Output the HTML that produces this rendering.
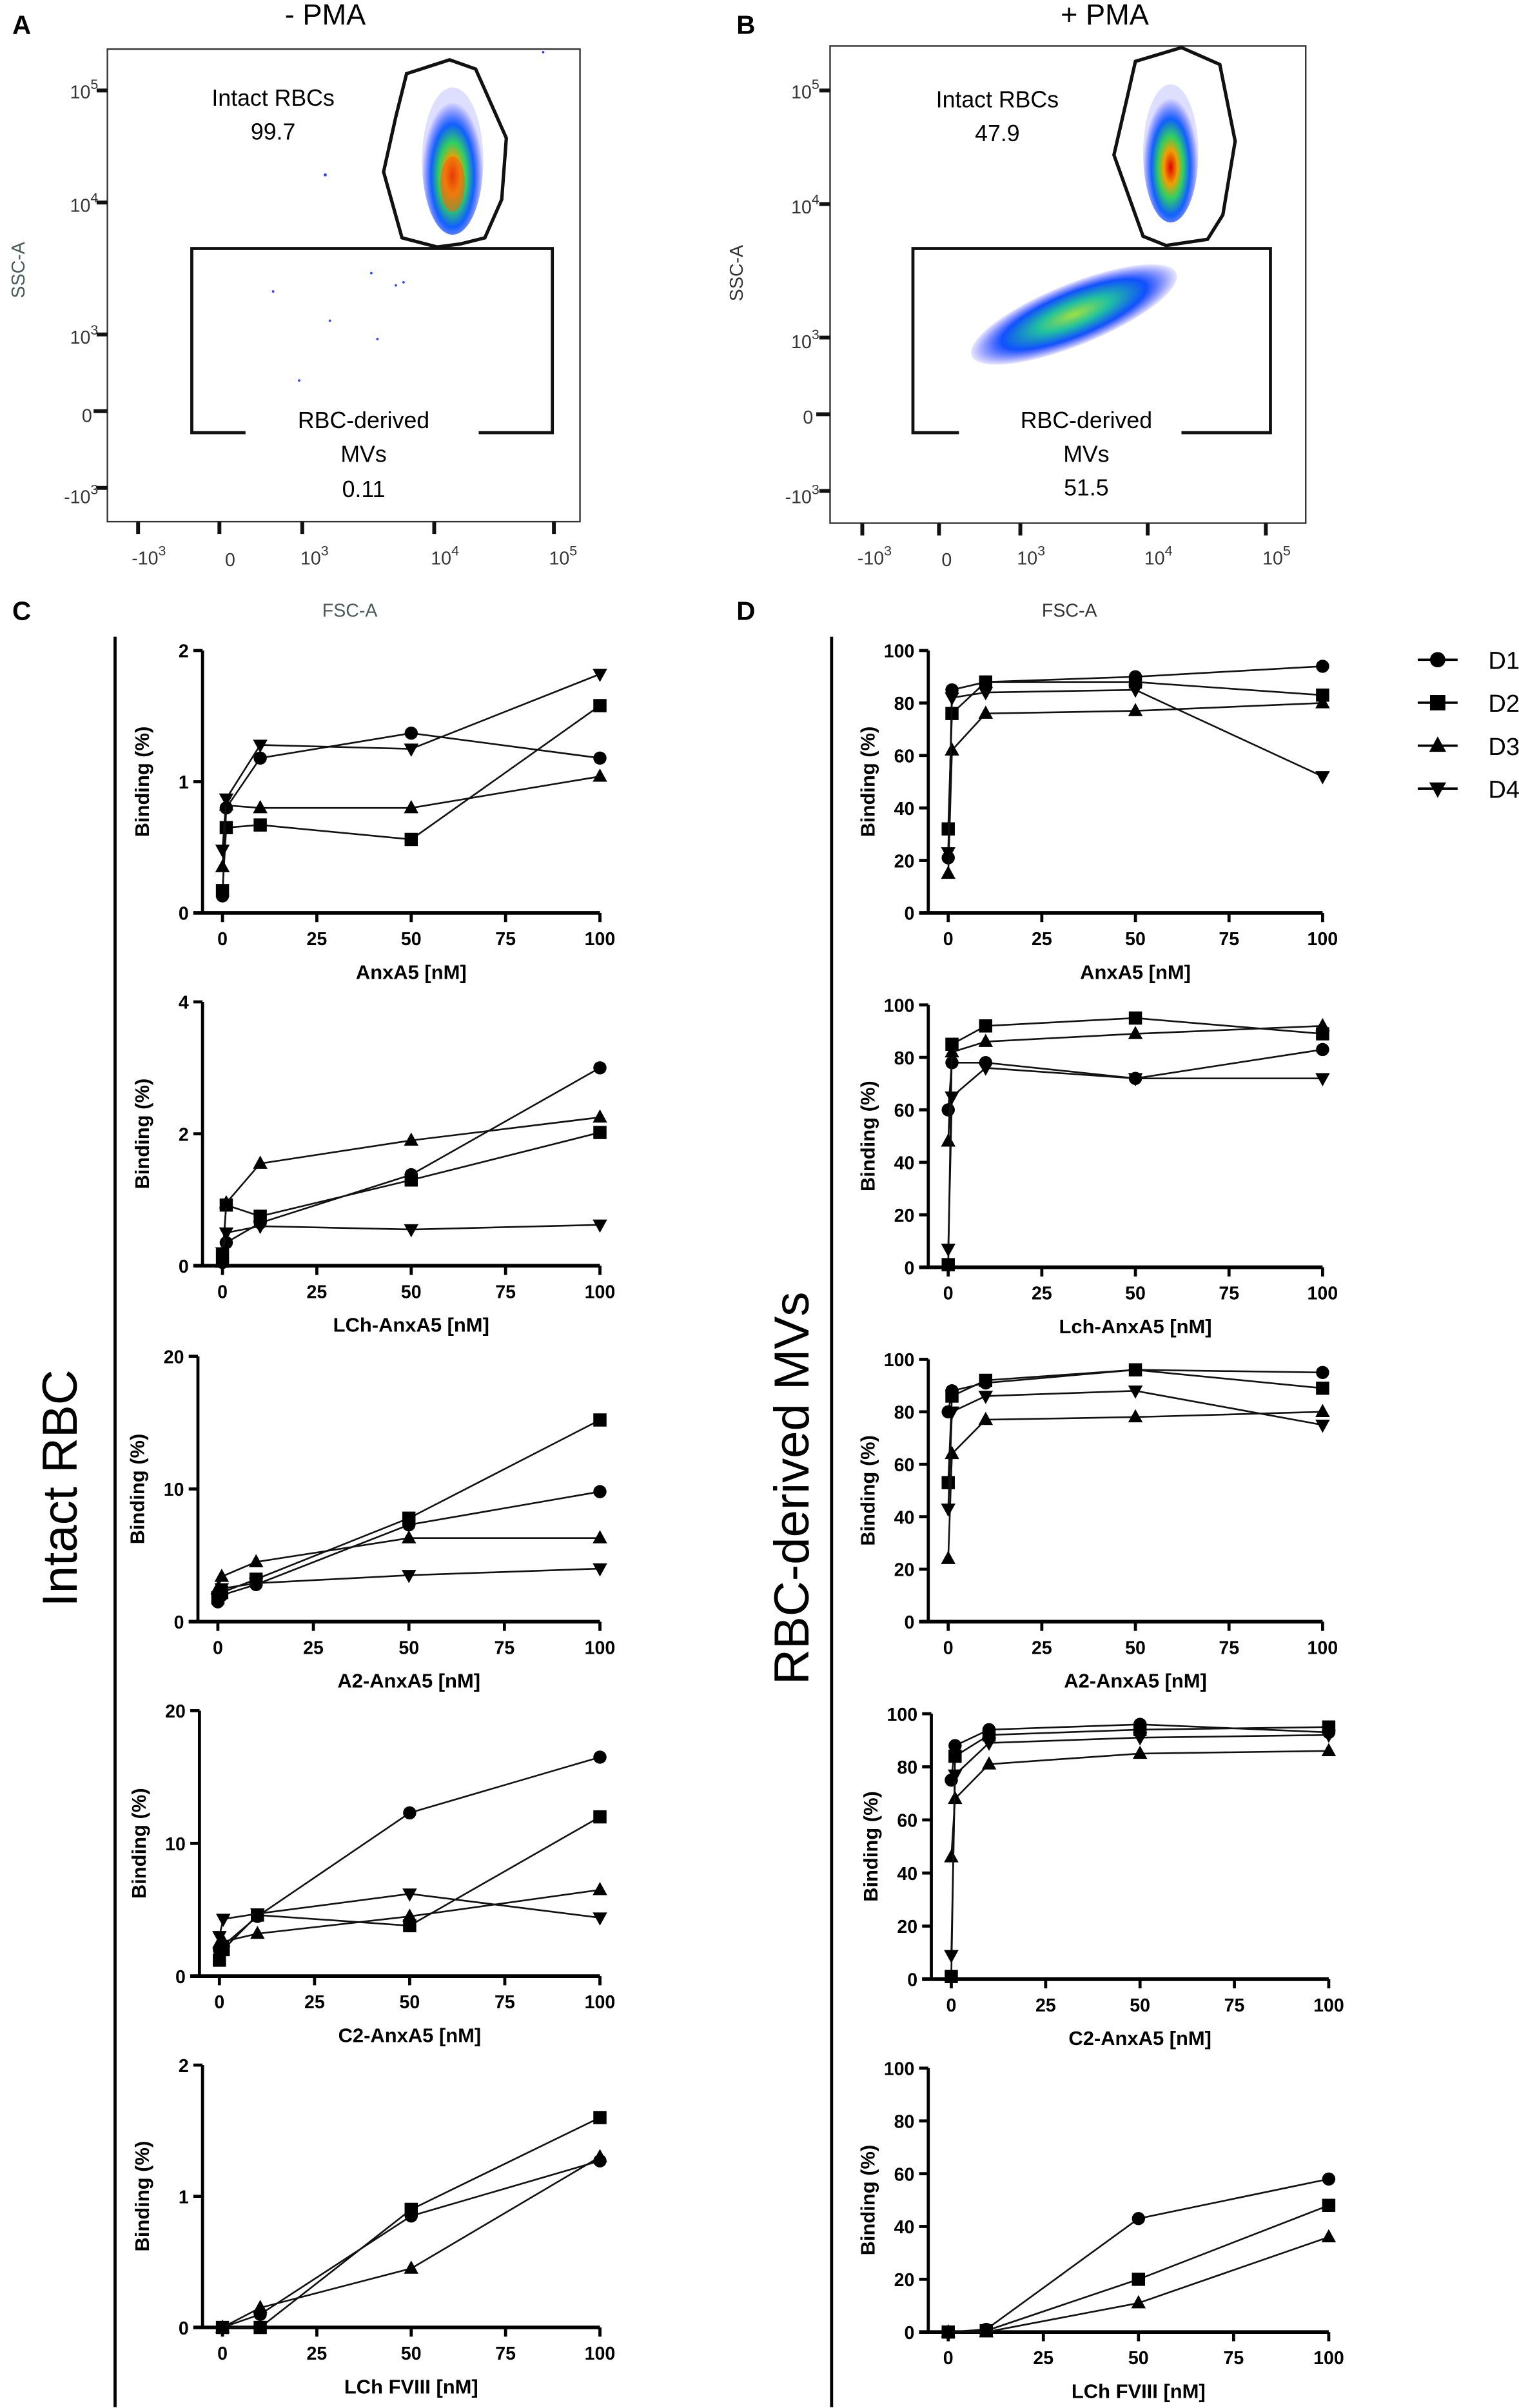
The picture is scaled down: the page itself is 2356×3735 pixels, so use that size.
<!DOCTYPE html>
<html><head><meta charset="utf-8"><style>
html,body{margin:0;padding:0;background:#fff;}
svg{display:block;}
text{font-family:"Liberation Sans",Arial,sans-serif;}
</style></head><body>
<svg id="fig" width="2356" height="3735" viewBox="0 0 990 1569.5" preserveAspectRatio="none" xmlns="http://www.w3.org/2000/svg">
<defs>
<radialGradient id="dens" cx="50%" cy="60%" r="50%">
<stop offset="0" stop-color="#e00000"/><stop offset="0.25" stop-color="#f0a000"/><stop offset="0.45" stop-color="#30d060"/><stop offset="0.7" stop-color="#1060ff"/><stop offset="1" stop-color="#2020ff" stop-opacity="0.15"/>
</radialGradient>
<radialGradient id="dens2" cx="50%" cy="50%" r="50%">
<stop offset="0" stop-color="#a0e040"/><stop offset="0.35" stop-color="#20c0a0"/><stop offset="0.7" stop-color="#1050ff"/><stop offset="1" stop-color="#2020ff" stop-opacity="0.1"/>
</radialGradient>
</defs>

<!-- Panel A -->
<g>
<text x="8" y="22" font-size="17" font-weight="bold">A</text>
<text x="212" y="16" font-size="19" text-anchor="middle">- PMA</text>
<rect x="70" y="32" width="308" height="308" fill="none" stroke="#333" stroke-width="1"/>
<ellipse cx="295" cy="105" rx="20" ry="48" fill="url(#dens)"/>
<ellipse cx="295" cy="120" rx="8" ry="18" fill="#f06010" opacity="0.6"/>
<polygon points="265,48 293,39 310,45 330,90 327,130 316,155 300,159 285,161 262,155 250,112 258,76" fill="none" stroke="#111" stroke-width="2.2"/>
<polyline points="160,282 125,282 125,162 360,162 360,282 312,282" fill="none" stroke="#111" stroke-width="2"/>
<g fill="#3040ff"><circle cx="212" cy="114" r="1"/><circle cx="215" cy="209" r="0.8"/><circle cx="178" cy="190" r="0.8"/><circle cx="242" cy="178" r="0.8"/><circle cx="258" cy="186" r="0.8"/><circle cx="263" cy="184" r="0.8"/><circle cx="246" cy="221" r="0.8"/><circle cx="195" cy="248" r="0.8"/><circle cx="354" cy="34" r="0.8"/></g>
<text x="178" y="69" font-size="15" text-anchor="middle">Intact RBCs</text>
<text x="178" y="91" font-size="15" text-anchor="middle">99.7</text>
<text x="237" y="279" font-size="15" text-anchor="middle">RBC-derived</text>
<text x="237" y="301" font-size="15" text-anchor="middle">MVs</text>
<text x="237" y="324" font-size="15" text-anchor="middle">0.11</text>
<g font-size="12" fill="#333" text-anchor="end">
<text x="64" y="64">10<tspan dy="-6" font-size="9">5</tspan></text>
<text x="64" y="138">10<tspan dy="-6" font-size="9">4</tspan></text>
<text x="64" y="224">10<tspan dy="-6" font-size="9">3</tspan></text>
<text x="60" y="275">0</text>
<text x="64" y="328">-10<tspan dy="-6" font-size="9">3</tspan></text>
</g>
<g stroke="#111" stroke-width="2.5"><line x1="63" y1="59" x2="70" y2="59"/><line x1="63" y1="132" x2="70" y2="132"/><line x1="63" y1="218" x2="70" y2="218"/><line x1="61" y1="268" x2="70" y2="268"/><line x1="63" y1="318" x2="70" y2="318"/>
<line x1="90" y1="340" x2="90" y2="348"/><line x1="143" y1="340" x2="143" y2="348"/><line x1="197" y1="340" x2="197" y2="348"/><line x1="283" y1="340" x2="283" y2="348"/><line x1="361" y1="340" x2="361" y2="348"/></g>
<g font-size="12" fill="#333" text-anchor="middle">
<text x="97" y="368">-10<tspan dy="-6" font-size="9">3</tspan></text>
<text x="150" y="369">0</text>
<text x="205" y="368">10<tspan dy="-6" font-size="9">3</tspan></text>
<text x="290" y="368">10<tspan dy="-6" font-size="9">4</tspan></text>
<text x="367" y="368">10<tspan dy="-6" font-size="9">5</tspan></text>
</g>
<text x="228" y="402" font-size="12" fill="#4a5a5a" text-anchor="middle">FSC-A</text>
<text transform="translate(16,176) rotate(-90)" font-size="12" fill="#4a5a5a" text-anchor="middle">SSC-A</text>
</g>

<!-- Panel B -->
<g>
<text x="480" y="22" font-size="17" font-weight="bold">B</text>
<text x="720" y="16" font-size="19" text-anchor="middle">+ PMA</text>
<rect x="541" y="30" width="310" height="311" fill="none" stroke="#333" stroke-width="1"/>
<g transform="rotate(-22 700 205)"><ellipse cx="700" cy="205" rx="72" ry="20" fill="url(#dens2)"/></g>
<ellipse cx="763" cy="100" rx="18" ry="45" fill="url(#dens)"/>
<polygon points="740,40 770,31 795,42 805,92 797,140 787,156 760,160 745,154 726,101 735,62" fill="none" stroke="#111" stroke-width="2.2"/>
<polyline points="625,282 595,282 595,162 828,162 828,282 770,282" fill="none" stroke="#111" stroke-width="2"/>
<text x="650" y="70" font-size="15" text-anchor="middle">Intact RBCs</text>
<text x="650" y="92" font-size="15" text-anchor="middle">47.9</text>
<text x="708" y="279" font-size="15" text-anchor="middle">RBC-derived</text>
<text x="708" y="301" font-size="15" text-anchor="middle">MVs</text>
<text x="708" y="323" font-size="15" text-anchor="middle">51.5</text>
<g font-size="12" fill="#333" text-anchor="end">
<text x="534" y="64">10<tspan dy="-6" font-size="9">5</tspan></text>
<text x="534" y="139">10<tspan dy="-6" font-size="9">4</tspan></text>
<text x="534" y="227">10<tspan dy="-6" font-size="9">3</tspan></text>
<text x="530" y="276">0</text>
<text x="534" y="328">-10<tspan dy="-6" font-size="9">3</tspan></text>
</g>
<g stroke="#111" stroke-width="2.5"><line x1="534" y1="59" x2="541" y2="59"/><line x1="534" y1="133" x2="541" y2="133"/><line x1="534" y1="220" x2="541" y2="220"/><line x1="532" y1="270" x2="541" y2="270"/><line x1="534" y1="320" x2="541" y2="320"/>
<line x1="562" y1="341" x2="562" y2="349"/><line x1="612" y1="341" x2="612" y2="349"/><line x1="665" y1="341" x2="665" y2="349"/><line x1="748" y1="341" x2="748" y2="349"/><line x1="825" y1="341" x2="825" y2="349"/></g>
<g font-size="12" fill="#333" text-anchor="middle">
<text x="570" y="368">-10<tspan dy="-6" font-size="9">3</tspan></text>
<text x="617" y="369">0</text>
<text x="672" y="368">10<tspan dy="-6" font-size="9">3</tspan></text>
<text x="755" y="368">10<tspan dy="-6" font-size="9">4</tspan></text>
<text x="832" y="368">10<tspan dy="-6" font-size="9">5</tspan></text>
</g>
<text x="697" y="402" font-size="12" fill="#333" text-anchor="middle">FSC-A</text>
<text transform="translate(484,178) rotate(-90)" font-size="12" fill="#333" text-anchor="middle">SSC-A</text>
</g>

<!-- Section labels -->
<text x="8" y="404" font-size="17" font-weight="bold">C</text>
<text x="480" y="404" font-size="17" font-weight="bold">D</text>
<line x1="75" y1="415" x2="75" y2="1569" stroke="#000" stroke-width="2"/>
<line x1="542" y1="415" x2="542" y2="1569" stroke="#000" stroke-width="2"/>
<text transform="translate(50,970) rotate(-90)" font-size="32" text-anchor="middle">Intact RBC</text>
<text transform="translate(527,970) rotate(-90)" font-size="32" text-anchor="middle">RBC-derived MVs</text>

<!-- Legend -->
<g id="legend"></g>
<g id="charts"></g>
</svg>
<script>
// shared x values
const xsAnx = [0, 1, 10, 50, 100];
const xsFVIII = [0, 10, 50, 100];
const donors = ["D1", "D2", "D3", "D4"];
const xTicks = [0, 25, 50, 75, 100];

// C: intact RBC
const cAnxA5_D1 = [0.13, 0.8, 1.18, 1.37, 1.18];
const cAnxA5_D2 = [0.17, 0.65, 0.67, 0.56, 1.58];
const cAnxA5_D3 = [0.35, 0.82, 0.8, 0.8, 1.04];
const cAnxA5_D4 = [0.48, 0.87, 1.28, 1.25, 1.82];
const cLCh_D1 = [0.05, 0.35, 0.65, 1.38, 3.0];
const cLCh_D2 = [0.15, 0.92, 0.75, 1.3, 2.02];
const cLCh_D3 = [0.05, 0.95, 1.55, 1.9, 2.25];
const cLCh_D4 = [0.2, 0.5, 0.6, 0.55, 0.62];
const cA2_D1 = [1.5, 2.0, 2.8, 7.3, 9.8];
const cA2_D2 = [1.8, 2.2, 3.2, 7.8, 15.2];
const cA2_D3 = [2.5, 3.4, 4.5, 6.3, 6.3];
const cA2_D4 = [1.7, 2.5, 2.9, 3.5, 4.0];
const cC2_D1 = [2.0, 2.3, 4.5, 12.3, 16.5];
const cC2_D2 = [1.2, 2.0, 4.6, 3.8, 12.0];
const cC2_D3 = [2.5, 2.6, 3.2, 4.5, 6.5];
const cC2_D4 = [3.0, 4.3, 4.7, 6.2, 4.4];
const cF8_D1 = [0, 0.1, 0.85, 1.27];
const cF8_D2 = [0, 0, 0.9, 1.6];
const cF8_D3 = [0, 0.15, 0.45, 1.3];

// D: MVs
const dAnxA5_D1 = [21, 85, 88, 90, 94];
const dAnxA5_D2 = [32, 76, 88, 88, 83];
const dAnxA5_D3 = [15, 62, 76, 77, 80];
const dAnxA5_D4 = [23, 82, 84, 85, 52];
const dLCh_D1 = [60, 78, 78, 72, 83];
const dLCh_D2 = [1, 85, 92, 95, 89];
const dLCh_D3 = [48, 82, 86, 89, 92];
const dLCh_D4 = [7, 65, 76, 72, 72];
const dA2_D1 = [80, 88, 91, 96, 95];
const dA2_D2 = [53, 86, 92, 96, 89];
const dA2_D3 = [24, 64, 77, 78, 80];
const dA2_D4 = [43, 80, 86, 88, 75];
const dC2_D1 = [75, 88, 94, 96, 93];
const dC2_D2 = [1, 84, 92, 94, 95];
const dC2_D3 = [46, 68, 81, 85, 86];
const dC2_D4 = [9, 77, 89, 91, 92];
const dF8_D1 = [0, 1, 43, 58];
const dF8_D2 = [0, 0.5, 20, 48];
const dF8_D3 = [0, 0, 11, 36];

const yTicksC12 = [0, 1, 2];
const yTicksC2 = [0, 2, 4];
const yTicksC34 = [0, 10, 20];
const yTicksD = [0, 20, 40, 60, 80, 100];

const NS = "http://www.w3.org/2000/svg";
function mk(tag, attrs, parent) { const e = document.createElementNS(NS, tag); for (const k in attrs) e.setAttribute(k, attrs[k]); parent.appendChild(e); return e; }
function marker(g, shape, cx, cy, r) {
  let m;
  if (shape === 0) m = mk("circle", {cx: cx, cy: cy, r: r}, g);
  else if (shape === 1) m = mk("rect", {x: cx - r, y: cy - r, width: 2 * r, height: 2 * r}, g);
  else if (shape === 2) m = mk("polygon", {points: `${cx},${cy - r * 1.2} ${cx - r * 1.1},${cy + r * 0.8} ${cx + r * 1.1},${cy + r * 0.8}`}, g);
  else m = mk("polygon", {points: `${cx},${cy + r * 1.2} ${cx - r * 1.1},${cy - r * 0.8} ${cx + r * 1.1},${cy - r * 0.8}`}, g);
  m.setAttribute("fill", "#000");
  return m;
}
const root = document.getElementById("charts");
function chart(cfg) {
  const g = mk("g", {}, root);
  
  
  const ymax = cfg.yt[cfg.yt.length - 1];
  const sx = v => cfg.x0 + (v / 100) * (cfg.x1 - cfg.x0);
  const sy = v => cfg.yb - (v / ymax) * (cfg.yb - cfg.yt0);
  const ax = cfg.x0 - 13;
  const yAxis = mk("line", {x1: ax, y1: cfg.yt0, x2: ax, y2: cfg.yb, stroke: "#000", "stroke-width": 2}, g);
  
  
  const xAxis = mk("line", {x1: ax - 6, y1: cfg.yb, x2: cfg.x1, y2: cfg.yb, stroke: "#000", "stroke-width": 2.4}, g);
  
  
  cfg.yt.forEach(t => {
    mk("line", {x1: ax - 6, y1: sy(t), x2: ax, y2: sy(t), stroke: "#000", "stroke-width": 2}, g);
    const tl = mk("text", {x: ax - 9, y: sy(t) + 4.5, "font-size": 12, "font-weight": "bold", "text-anchor": "end"}, g);
    
    
    tl.textContent = t;
  });
  xTicks.forEach(t => {
    mk("line", {x1: sx(t), y1: cfg.yb, x2: sx(t), y2: cfg.yb + 6, stroke: "#000", "stroke-width": 2}, g);
    const tl = mk("text", {x: sx(t), y: cfg.yb + 21, "font-size": 12, "font-weight": "bold", "text-anchor": "middle"}, g);
    
    
    tl.textContent = t;
  });
  const xt = mk("text", {x: (cfg.x0 + cfg.x1) / 2, y: cfg.yb + 43, "font-size": 13, "font-weight": "bold", "text-anchor": "middle"}, g);
  
  
  xt.textContent = cfg.xl;
  const yl = mk("text", {transform: `translate(${ax - 35},${(cfg.yt0 + cfg.yb) / 2}) rotate(-90)`, "font-size": 13, "font-weight": "bold", "text-anchor": "middle"}, g);
  
  
  yl.textContent = "Binding (%)";
  cfg.series.forEach((s, i) => {
    const pts = s.map((v, j) => sx(cfg.xs[j]) + "," + sy(v)).join(" ");
    const pl = mk("polyline", {points: pts, fill: "none", stroke: "#111", "stroke-width": 1.1}, g);
    
    
    s.forEach((v, j) => {
      const m = marker(g, i, sx(cfg.xs[j]), sy(v), 4.3);
      
      
    });
  });
}
const cx0 = 145, cx1 = 391, dx0 = 618, dx1 = 862;
chart({name: "chart-c-anxa5", x0: cx0, x1: cx1, yt0: 424, yb: 595, yt: yTicksC12, xs: xsAnx, xl: "AnxA5 [nM]", series: [cAnxA5_D1, cAnxA5_D2, cAnxA5_D3, cAnxA5_D4]});
chart({name: "chart-c-lch-anxa5", x0: cx0, x1: cx1, yt0: 653, yb: 825, yt: yTicksC2, xs: xsAnx, xl: "LCh-AnxA5 [nM]", series: [cLCh_D1, cLCh_D2, cLCh_D3, cLCh_D4]});
chart({name: "chart-c-a2-anxa5", x0: cx0 - 3, x1: cx1, yt0: 884, yb: 1057, yt: yTicksC34, xs: xsAnx, xl: "A2-AnxA5 [nM]", series: [cA2_D1, cA2_D2, cA2_D3, cA2_D4]});
chart({name: "chart-c-c2-anxa5", x0: cx0 - 2, x1: cx1, yt0: 1115, yb: 1288, yt: yTicksC34, xs: xsAnx, xl: "C2-AnxA5 [nM]", series: [cC2_D1, cC2_D2, cC2_D3, cC2_D4]});
chart({name: "chart-c-lch-fviii", x0: cx0, x1: cx1, yt0: 1346, yb: 1517, yt: yTicksC12, xs: xsFVIII, xl: "LCh FVIII [nM]", series: [cF8_D1, cF8_D2, cF8_D3]});
chart({name: "chart-d-anxa5", x0: dx0, x1: dx1, yt0: 424, yb: 595, yt: yTicksD, xs: xsAnx, xl: "AnxA5 [nM]", series: [dAnxA5_D1, dAnxA5_D2, dAnxA5_D3, dAnxA5_D4]});
chart({name: "chart-d-lch-anxa5", x0: dx0, x1: dx1, yt0: 655, yb: 826, yt: yTicksD, xs: xsAnx, xl: "Lch-AnxA5 [nM]", series: [dLCh_D1, dLCh_D2, dLCh_D3, dLCh_D4]});
chart({name: "chart-d-a2-anxa5", x0: dx0, x1: dx1, yt0: 886, yb: 1057, yt: yTicksD, xs: xsAnx, xl: "A2-AnxA5 [nM]", series: [dA2_D1, dA2_D2, dA2_D3, dA2_D4]});
chart({name: "chart-d-c2-anxa5", x0: dx0 + 2, x1: dx1 + 4, yt0: 1117, yb: 1290, yt: yTicksD, xs: xsAnx, xl: "C2-AnxA5 [nM]", series: [dC2_D1, dC2_D2, dC2_D3, dC2_D4]});
chart({name: "chart-d-lch-fviii", x0: dx0, x1: dx1 + 4, yt0: 1348, yb: 1520, yt: yTicksD, xs: xsFVIII, xl: "LCh FVIII [nM]", series: [dF8_D1, dF8_D2, dF8_D3]});

const leg = document.getElementById("legend");
donors.forEach((d, i) => {
  const y = 430 + i * 28;
  const lg = mk("g", {}, leg);
  
  
  mk("line", {x1: 924, y1: y, x2: 950, y2: y, stroke: "#000", "stroke-width": 1.5}, lg);
  marker(lg, i, 937, y, 5);
  const t = mk("text", {x: 970, y: y + 6, "font-size": 16}, lg);
  t.textContent = d;
});
</script>
</body></html>
